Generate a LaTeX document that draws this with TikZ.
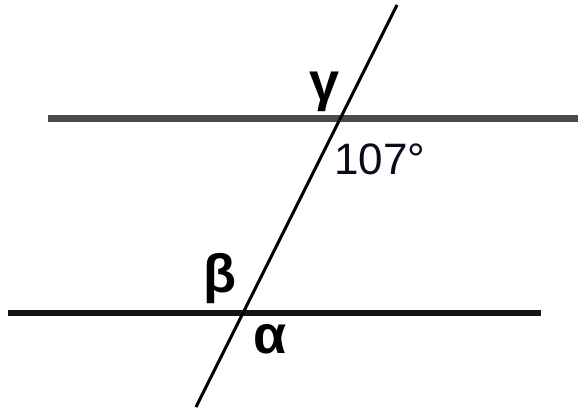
\documentclass[tikz,border=0pt]{standalone}
\usepackage{fontspec}
\setmainfont{Liberation Sans}
\usetikzlibrary{positioning,calc}
\definecolor{UpperGray}{HTML}{4A4A4A}
\definecolor{LowerInk}{HTML}{151515}
\definecolor{Ink}{HTML}{0A0A1E}
\tikzset{
 upperline/.style={draw=UpperGray, line width=7pt},
 lowerline/.style={draw=LowerInk, line width=6pt},
 transversal/.style={draw=black, line width=3pt},
 greek/.style={inner sep=0pt, text=black, font=\fontsize{54}{54}\selectfont\bfseries},
 angletext/.style={inner sep=0pt, text=Ink, font=\fontsize{44}{44}\selectfont}
}

\begin{document}
\begin{tikzpicture}[x=1pt,y=-1pt]
\useasboundingbox (0,0) rectangle (578,414);
% line ends
\coordinate (U1) at (48,119);
\coordinate (U2) at (578,119);
\coordinate (L1) at (8,313);
\coordinate (L2) at (541,313);
\coordinate (T1) at (397,5);
\coordinate (T2) at (196,407);
% the two parallels and the transversal
\draw[upperline] (U1) -- (U2);
\draw[lowerline] (L1) -- (L2);
\draw[transversal] (T1) -- (T2);
% angle labels
\node[greek] (gamma) at (325,92) {γ};
\node[angletext] (given) at (380,159) {107°};
\node[greek] (beta) at (220,279) {β};
\node[greek] (alpha) at (270,339) {α};
\end{tikzpicture}
\end{document}
